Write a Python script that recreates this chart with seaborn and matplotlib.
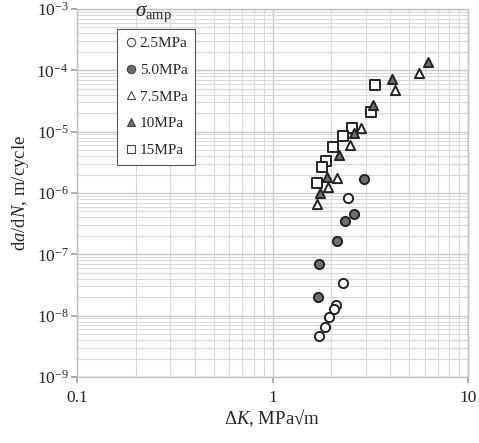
import numpy as np
import pandas as pd
import matplotlib
matplotlib.use("Agg")
import matplotlib.pyplot as plt
import seaborn as sns
from matplotlib.ticker import FixedLocator, LogFormatterMathtext, NullFormatter, FuncFormatter
from matplotlib.lines import Line2D

# ---- data ----
series_names = ["2.5MPa", "5.0MPa", "7.5MPa", "10MPa", "15MPa"]

dk_25 = [2.44, 2.29, 2.11, 2.06, 1.94, 1.86, 1.73]
da_25 = [8.4e-7, 3.4e-8, 1.49e-8, 1.27e-8, 9.4e-9, 6.5e-9, 4.7e-9]

dk_50 = [2.94, 2.62, 2.36, 2.13, 1.73, 1.70]
da_50 = [1.69e-6, 4.5e-7, 3.5e-7, 1.67e-7, 6.9e-8, 2.0e-8]

dk_75 = [5.62, 4.23, 2.83, 2.49, 2.13, 1.93, 1.69]
da_75 = [8.9e-5, 4.8e-5, 1.16e-5, 6.06e-6, 1.78e-6, 1.27e-6, 6.6e-7]

dk_10 = [6.27, 4.10, 3.25, 2.62, 2.19, 1.89, 1.74]
da_10 = [1.35e-4, 7.1e-5, 2.72e-5, 9.4e-6, 4.2e-6, 1.85e-6, 1.01e-6]

dk_15 = [3.33, 3.18, 2.54, 2.29, 2.03, 1.88, 1.80, 1.69]
da_15 = [5.77e-5, 2.09e-5, 1.16e-5, 8.6e-6, 5.7e-6, 3.37e-6, 2.62e-6, 1.44e-6]

x_major = [0.1, 1, 10]
y_major = [1e-9, 1e-8, 1e-7, 1e-6, 1e-5, 1e-4, 1e-3]

frames = []
for name, xs, ys in zip(series_names,
                        [dk_25, dk_50, dk_75, dk_10, dk_15],
                        [da_25, da_50, da_75, da_10, da_15]):
    frames.append(pd.DataFrame({"dK": xs, "dadN": ys, "amp": name}))
df = pd.concat(frames, ignore_index=True)

# ---- style ----
sns.set_theme(style="white")
plt.rcParams["font.family"] = ["Liberation Serif", "DejaVu Serif"]
plt.rcParams["mathtext.fontset"] = "custom"
plt.rcParams["mathtext.rm"] = "Liberation Serif"
plt.rcParams["mathtext.it"] = "Liberation Serif:italic"
plt.rcParams["mathtext.bf"] = "Liberation Serif:bold"
plt.rcParams["axes.unicode_minus"] = False

fig = plt.figure(figsize=(4.79, 4.43), dpi=100)
ax = fig.add_axes([77/479, 66/443, 391/479, 368/443])
ax.set_xscale("log")
ax.set_yscale("log")

styles = {
    "2.5MPa": dict(marker="o", facecolor="white"),
    "5.0MPa": dict(marker="o", facecolor="#6e6e6e"),
    "7.5MPa": dict(marker="^", facecolor="white"),
    "10MPa": dict(marker="^", facecolor="#6e6e6e"),
    "15MPa": dict(marker="s", facecolor="white"),
}
order_draw = ["2.5MPa", "5.0MPa", "15MPa", "7.5MPa", "10MPa"]
for name in order_draw:
    sub = df[df["amp"] == name]
    st = styles[name]
    sns.scatterplot(data=sub, x="dK", y="dadN", ax=ax, marker=st["marker"],
                    color=st["facecolor"], edgecolor="#222222", linewidth=1.4,
                    s=44 if st["marker"] != "s" else 48, zorder=3, legend=False)

leg_handles = [Line2D([], [], linestyle="none", marker=styles[n]["marker"],
                      markerfacecolor=styles[n]["facecolor"], markeredgecolor="#444444",
                      markeredgewidth=0.8, markersize=6) for n in series_names]

ax.set_xlim(x_major[0], x_major[-1])
ax.set_ylim(y_major[0], y_major[-1])

def minors(majors):
    out = []
    for m in majors[:-1]:
        out.extend([m * k for k in range(2, 10)])
    return out

ax.xaxis.set_major_locator(FixedLocator(x_major))
ax.xaxis.set_minor_locator(FixedLocator(minors(x_major)))
ax.yaxis.set_major_locator(FixedLocator(y_major))
ax.yaxis.set_minor_locator(FixedLocator(minors(y_major)))
ax.xaxis.set_major_formatter(FuncFormatter(lambda v, p: "%g" % v))
ax.yaxis.set_major_formatter(LogFormatterMathtext())
ax.xaxis.set_minor_formatter(NullFormatter())
ax.yaxis.set_minor_formatter(NullFormatter())

ax.grid(True, which="major", color="#c8c8c8", linewidth=1.0)
ax.grid(True, which="minor", color="#d8d8d8", linewidth=0.8)
ax.set_axisbelow(True)
for sp in ax.spines.values():
    sp.set_color("#c0c0c0")
    sp.set_linewidth(1.0)

ax.tick_params(axis="both", which="major", labelsize=12.5, length=4, color="#a0a0a0",
               direction="out", bottom=True, left=True)
ax.tick_params(axis="x", which="major", pad=5)
ax.tick_params(axis="y", which="major", pad=2)
ax.tick_params(axis="both", which="minor", length=0)

ax.set_xlabel(r"$\Delta K$, MPa√m", fontsize=13.5, labelpad=1)
ax.set_ylabel(r"d$a$/d$N$, m/cycle", fontsize=13.5, labelpad=4)

leg = ax.legend(leg_handles, series_names, loc="upper left",
                bbox_to_anchor=(0.102, 0.946), fontsize=11, frameon=True,
                fancybox=False, framealpha=1.0, edgecolor="#555555",
                labelspacing=0.85, handlelength=0.8, handletextpad=0.2,
                borderpad=0.5, borderaxespad=0.0)
leg.get_frame().set_linewidth(0.8)
ax.text(0.196, 0.958, r"$\sigma_{\mathrm{amp}}$", transform=ax.transAxes,
        ha="center", va="bottom", fontsize=15)

fig.savefig("out.png", dpi=100)
